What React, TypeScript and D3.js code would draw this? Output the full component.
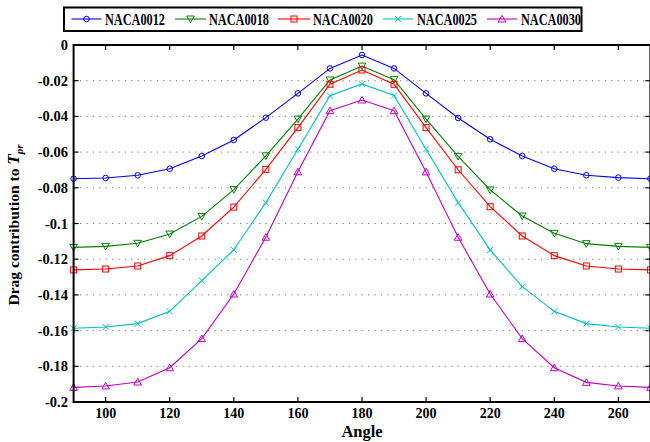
import React from "react";
import * as d3 from "d3";

const angles = [90, 100, 110, 120, 130, 140, 150, 160, 170, 180, 190, 200, 210, 220, 230, 240, 250, 260, 270];
const naca0012 = [-0.0749, -0.0745, -0.0730, -0.0693, -0.0622, -0.0532, -0.0407, -0.0271, -0.0131, -0.0056, -0.0131, -0.0271, -0.0409, -0.0528, -0.0622, -0.0693, -0.0730, -0.0743, -0.0749];
const naca0018 = [-0.1134, -0.1128, -0.1111, -0.1059, -0.0960, -0.0810, -0.0621, -0.0415, -0.0196, -0.0118, -0.0194, -0.0415, -0.0624, -0.0812, -0.0958, -0.1055, -0.1113, -0.1128, -0.1134];
const naca0020 = [-0.1260, -0.1255, -0.1238, -0.1180, -0.1070, -0.0908, -0.0697, -0.0463, -0.0220, -0.0140, -0.0220, -0.0463, -0.0699, -0.0906, -0.1070, -0.1180, -0.1238, -0.1255, -0.1260];
const naca0025 = [-0.1587, -0.1580, -0.1561, -0.1492, -0.1320, -0.1147, -0.0883, -0.0584, -0.0284, -0.0218, -0.0283, -0.0584, -0.0883, -0.1148, -0.1354, -0.1492, -0.1561, -0.1580, -0.1587];
const naca0030 = [-0.1918, -0.1910, -0.1888, -0.1808, -0.1645, -0.1395, -0.1077, -0.0710, -0.0368, -0.0308, -0.0368, -0.0711, -0.1077, -0.1395, -0.1645, -0.1808, -0.1890, -0.1910, -0.1918];

const seriesNames = ["NACA0012", "NACA0018", "NACA0020", "NACA0025", "NACA0030"];
const seriesValues = [naca0012, naca0018, naca0020, naca0025, naca0030];
const seriesColors = ["#0000ff", "#008000", "#ff0000", "#00bfbf", "#bf00bf"];
const seriesMarkers = ["circle", "triangleDown", "square", "cross", "triangleUp"];

const xTicks = [100, 120, 140, 160, 180, 200, 220, 240, 260];
const yTicks = [0, -0.02, -0.04, -0.06, -0.08, -0.1, -0.12, -0.14, -0.16, -0.18, -0.2];
const yTickLabels = ["0", "-0.02", "-0.04", "-0.06", "-0.08", "-0.1", "-0.12", "-0.14", "-0.16", "-0.18", "-0.2"];

const W = 650, H = 442;
const L = 73.6, R = 650.4, T = 45, B = 402;
const FONT = "'Liberation Serif', 'Times New Roman', serif";

function Marker({ kind, x, y, color }: { kind: string; x: number; y: number; color: string }) {
  const sw = 1;
  if (kind === "circle") return <circle cx={x} cy={y} r={2.8} fill="none" stroke={color} strokeWidth={sw} />;
  if (kind === "square") return <rect x={x - 3} y={y - 3} width={6} height={6} fill="none" stroke={color} strokeWidth={sw} />;
  if (kind === "triangleDown")
    return <path d={`M${x - 3.8},${y - 3} L${x + 3.8},${y - 3} L${x},${y + 3.6} Z`} fill="none" stroke={color} strokeWidth={sw} />;
  if (kind === "triangleUp")
    return <path d={`M${x - 3.8},${y + 3} L${x + 3.8},${y + 3} L${x},${y - 3.6} Z`} fill="none" stroke={color} strokeWidth={sw} />;
  return <path d={`M${x - 3},${y - 3} L${x + 3},${y + 3} M${x - 3},${y + 3} L${x + 3},${y - 3}`} fill="none" stroke={color} strokeWidth={sw} />;
}

export default function App() {
  const xs = d3.scaleLinear().domain([90, 270]).range([L, R]);
  const ys = d3.scaleLinear().domain([0, -0.2]).range([T, B]);
  const line = d3.line<number>().x((_, i) => xs(angles[i])).y((d) => ys(d));

  const legendItems = [
    { x1: 71.5, x2: 101.5, tx: 105 },
    { x1: 175, x2: 206, tx: 209 },
    { x1: 278, x2: 310, tx: 313 },
    { x1: 383, x2: 413, tx: 417 },
    { x1: 487, x2: 517, tx: 521 },
  ];

  return (
    <svg width={W} height={H} style={{ position: "absolute", left: 0, top: 0, background: "#fff" }} fontFamily={FONT}>
      <rect x={0} y={0} width={W} height={H} fill="#fff" />
      {/* grid */}
      {yTicks.slice(1, -1).map((t) => (
        <line key={"g" + t} x1={L} x2={R} y1={ys(t)} y2={ys(t)} stroke="#777" strokeWidth={1} strokeDasharray="1.2,5.2" />
      ))}
      {/* ticks */}
      {xTicks.map((t) => (
        <g key={"xt" + t}>
          <line x1={xs(t)} x2={xs(t)} y1={B} y2={B - 5} stroke="#000" strokeWidth={1.2} />
          <line x1={xs(t)} x2={xs(t)} y1={T} y2={T + 5} stroke="#000" strokeWidth={1.2} />
          <text x={xs(t)} y={418} textAnchor="middle" fontSize={14} fontWeight="bold">{t}</text>
        </g>
      ))}
      {yTicks.map((t, i) => (
        <g key={"yt" + t}>
          <line x1={L} x2={L + 5} y1={ys(t)} y2={ys(t)} stroke="#000" strokeWidth={1.2} />
          <line x1={R} x2={R - 5} y1={ys(t)} y2={ys(t)} stroke="#000" strokeWidth={1.2} />
          <text x={68} y={ys(t) + 5} textAnchor="end" fontSize={14.5} fontWeight="bold">{yTickLabels[i]}</text>
        </g>
      ))}
      {/* series */}
      {seriesValues.map((vals, si) => (
        <g key={"s" + si}>
          <path d={line(vals) || ""} fill="none" stroke={seriesColors[si]} strokeWidth={1.1} />
          {vals.map((v, i) => (
            <Marker key={i} kind={seriesMarkers[si]} x={xs(angles[i])} y={ys(v)} color={seriesColors[si]} />
          ))}
        </g>
      ))}
      {/* frame */}
      <rect x={L} y={T} width={R - L} height={B - T} fill="none" stroke="#000" strokeWidth={2} />
      {/* axis labels */}
      <text x={(L + R) / 2} y={437} textAnchor="middle" fontSize={16.5} fontWeight="bold">Angle</text>
      <text transform="translate(19,225) rotate(-90)" textAnchor="middle" fontSize={15.5} fontWeight="bold">
        Drag contribution to <tspan fontStyle="italic" fontSize={17}>T</tspan>
        <tspan fontStyle="italic" fontSize={11} dy={4}>pr</tspan>
      </text>
      {/* legend */}
      <rect x={64} y={7.5} width={517.5} height={23.5} fill="#fff" stroke="#000" strokeWidth={2} />
      {legendItems.map((it, i) => (
        <g key={"l" + i}>
          <line x1={it.x1} x2={it.x2} y1={19} y2={19} stroke={seriesColors[i]} strokeWidth={1.1} />
          <Marker kind={seriesMarkers[i]} x={(it.x1 + it.x2) / 2} y={19} color={seriesColors[i]} />
          <text x={it.tx} y={25} fontSize={16.5} fontWeight="bold" textLength={60} lengthAdjust="spacingAndGlyphs">
            {seriesNames[i]}
          </text>
        </g>
      ))}
    </svg>
  );
}
